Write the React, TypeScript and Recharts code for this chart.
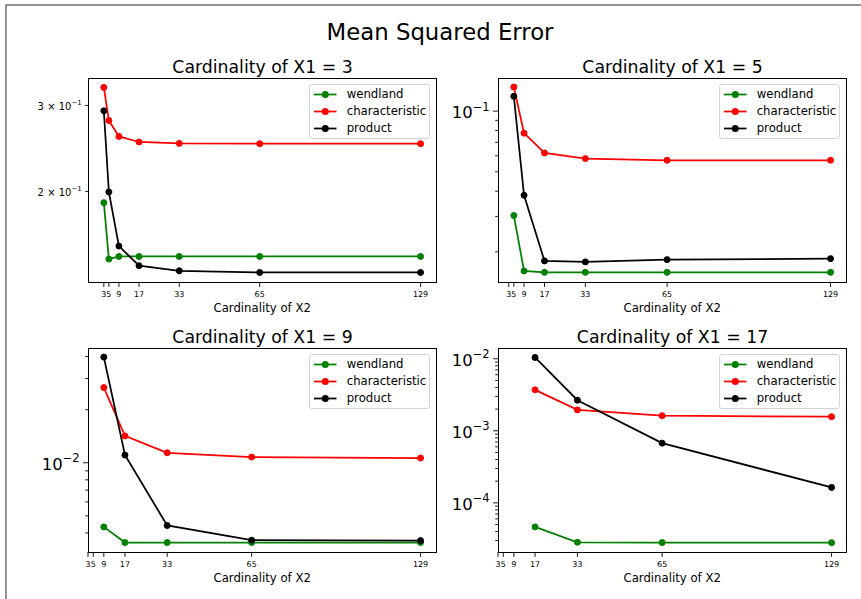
import React from 'react';
import { LineChart, Line, XAxis, YAxis, Legend } from 'recharts';

// X2 cardinalities used on every x axis
const x2Cardinality = [3, 5, 9, 17, 33, 65, 129];
const x1Cardinality = [3, 5, 9, 17];

const seriesNames = ['wendland', 'characteristic', 'product'];
const seriesColors = ['green', 'red', 'black'];

// mean squared error, one value per X2 cardinality >= X1
const wendlandX1of3 = [0.1897, 0.1454, 0.1472, 0.1472, 0.1472, 0.1472, 0.1472];
const characteristicX1of3 = [0.3266, 0.2795, 0.2592, 0.2525, 0.2508, 0.2505, 0.2505];
const productX1of3 = [0.2925, 0.1995, 0.1546, 0.1409, 0.1376, 0.1365, 0.1365];

const wendlandX1of5 = [0.0303, 0.01608, 0.01582, 0.01582, 0.01582, 0.01582];
const characteristicX1of5 = [0.1317, 0.0777, 0.062, 0.0581, 0.057, 0.057];
const productX1of5 = [0.1184, 0.0382, 0.01804, 0.01783, 0.0183, 0.01851];

const wendlandX1of9 = [0.00433, 0.00353, 0.00353, 0.00353, 0.00353];
const characteristicX1of9 = [0.02667, 0.01419, 0.01139, 0.01077, 0.01063];
const productX1of9 = [0.0397, 0.01106, 0.00441, 0.00364, 0.00362];

const wendlandX1of17 = [4.64e-5, 2.84e-5, 2.81e-5, 2.8e-5];
const characteristicX1of17 = [0.0037, 0.00195, 0.00162, 0.00157];
const productX1of17 = [0.01042, 0.00266, 0.000674, 0.000164];

const seriesByX1 = [
  [wendlandX1of3, characteristicX1of3, productX1of3],
  [wendlandX1of5, characteristicX1of5, productX1of5],
  [wendlandX1of9, characteristicX1of9, productX1of9],
  [wendlandX1of17, characteristicX1of17, productX1of17],
];

// axis limits of each panel
const xDomains = [[-3.3, 135.3], [-1.2, 135.2], [3, 135], [3, 134.6]];
const yDomains = [[0.1305, 0.3414], [0.01417, 0.146], [0.00312, 0.0447], [2.08e-5, 0.0141]];

const FONT = "'DejaVu Sans', sans-serif";
const YW = 90;
const MT = 30;
const MR = 12;
const XH = 45;
const PW = 348.4;
const PH = 204;
const plotLefts = [88.3, 498.3, 88.3, 498.3];
const plotTops = [78.3, 78.3, 348.3, 348.3];

function buildData(x1: number, values: number[][]) {
  const xs = x2Cardinality.filter((v) => v >= x1);
  return xs.map((x, i) => {
    const row: any = { x };
    seriesNames.forEach((name, s) => {
      row[name] = values[s][i];
    });
    return row;
  });
}

function logTicks(lo: number, hi: number) {
  const out: number[] = [];
  for (let e = Math.floor(Math.log10(lo)) - 1; e <= Math.ceil(Math.log10(hi)); e++) {
    for (let m = 1; m < 10; m++) {
      const v = Number((m * Math.pow(10, e)).toPrecision(6));
      if (v >= lo && v <= hi) out.push(v);
    }
  }
  return out;
}

function isDecade(v: number) {
  const l = Math.log10(v);
  return Math.abs(l - Math.round(l)) < 1e-9;
}

function makeYTick(labelMinor: boolean) {
  return (props: any) => {
    const { x, y, payload } = props;
    const v = payload.value;
    const major = isDecade(v);
    const len = major ? 4.9 : 2.8;
    const e = Math.floor(Math.log10(v) + 1e-9);
    const m = Math.round(v / Math.pow(10, e));
    const exp = (e < 0 ? '\u2212' : '') + Math.abs(e);
    let label: any = null;
    if (major) {
      label = (
        <text x={x - len - 3.5} y={y + 7} textAnchor="end" fontSize={16.5} fontFamily={FONT} fill="#000">
          10<tspan dy={-7.5} fontSize={11.5}>{exp}</tspan>
        </text>
      );
    } else if (labelMinor) {
      label = (
        <text x={x - len - 3.5} y={y + 4.5} textAnchor="end" fontSize={10} fontFamily={FONT} fill="#000">
          {`${m} \u00d7 10`}<tspan dy={-4.5} fontSize={7}>{exp}</tspan>
        </text>
      );
    }
    return (
      <g>
        <line x1={x - len} x2={x} y1={y} y2={y} stroke="#000" strokeWidth={0.9} />
        {label}
      </g>
    );
  };
}

const XTick = (props: any) => {
  const { x, y, payload } = props;
  return (
    <g>
      <line x1={x} x2={x} y1={y} y2={y + 4.9} stroke="#000" strokeWidth={0.9} />
      <text x={x} y={y + 14.7} textAnchor="middle" fontSize={8} fontFamily={FONT} fill="#000">
        {payload.value}
      </text>
    </g>
  );
};

const LegendBox = (props: any) => {
  const payload = props.payload || [];
  // keep the plotting order, not the sorted one
  const items = seriesNames.map((name, s) => {
    const found = payload.find((p: any) => p.value === name);
    return { value: name, color: found ? found.color : seriesColors[s] };
  });
  return (
    <div
      style={{
        width: 121,
        height: 55,
        boxSizing: 'border-box',
        border: '1px solid #d4d4d4',
        borderRadius: 3,
        background: 'rgba(255,255,255,0.8)',
        position: 'relative',
        fontFamily: FONT,
        fontSize: 11.7,
      }}
    >
      {items.map((it: any, i: number) => (
        <div key={it.value} style={{ position: 'absolute', left: 0, top: 1.5 + i * 17, height: 17, width: 121 }}>
          <svg width={30} height={17} style={{ position: 'absolute', left: 3, top: 0 }}>
            <line x1={1} x2={23.5} y1={8.5} y2={8.5} stroke={it.color} strokeWidth={1.75} />
            <circle cx={12.3} cy={8.5} r={3.5} fill={it.color} />
          </svg>
          <span style={{ position: 'absolute', left: 37, top: 0, lineHeight: '17px', color: '#000', whiteSpace: 'nowrap' }}>
            {it.value}
          </span>
        </div>
      ))}
    </div>
  );
};

function Panel({ index }: { index: number }) {
  const x1 = x1Cardinality[index];
  const data = buildData(x1, seriesByX1[index]);
  const [ylo, yhi] = yDomains[index];
  const yTicks = logTicks(ylo, yhi);
  const labelMinor = !yTicks.some(isDecade);
  const left = plotLefts[index];
  const top = plotTops[index];
  const width = YW + PW + MR;
  const height = MT + PH + XH;
  return (
    <>
      <div style={{ position: 'absolute', left: left - YW, top: top - MT, width, height }}>
        <LineChart width={width} height={height} data={data} margin={{ top: MT, right: MR, bottom: 0, left: 0 }}>
          <XAxis
            dataKey="x"
            type="number"
            domain={xDomains[index]}
            allowDataOverflow
            ticks={x2Cardinality}
            interval={0}
            height={XH}
            tickSize={0}
            tickMargin={0}
            axisLine={false}
            tickLine={false}
            tick={XTick}
            label={{ value: 'Cardinality of X2', position: 'insideBottom', offset: 15.3, fontSize: 11.7, fontFamily: FONT, fill: '#000' }}
          />
          <YAxis
            type="number"
            scale="log"
            domain={[ylo, yhi]}
            allowDataOverflow
            ticks={yTicks}
            interval={0}
            width={YW}
            tickSize={0}
            tickMargin={0}
            axisLine={false}
            tickLine={false}
            tick={makeYTick(labelMinor)}
          />
          <Legend
            layout="vertical"
            align="center"
            verticalAlign="middle"
            content={LegendBox}
            wrapperStyle={{ left: YW + PW - 7 - 121, top: MT + 5.5, width: 121, height: 55 }}
          />
          {seriesNames.map((name, s) => (
            <Line
              key={name}
              dataKey={name}
              name={name}
              stroke={seriesColors[s]}
              strokeWidth={1.75}
              dot={{ r: 3, fill: seriesColors[s], stroke: seriesColors[s], strokeWidth: 1 }}
              activeDot={false}
              isAnimationActive={false}
            />
          ))}
        </LineChart>
      </div>
      <div
        style={{
          position: 'absolute',
          left: left - 0.5,
          top: top - 0.5,
          width: PW + 1,
          height: PH + 1,
          boxSizing: 'border-box',
          border: '1px solid #000',
          pointerEvents: 'none',
        }}
      />
    </>
  );
}

export default function App() {
  return (
    <div style={{ position: 'absolute', left: 0, top: 0, width: 861, height: 599, overflow: 'hidden', background: '#fff' }}>
      <svg width={861} height={599} style={{ position: 'absolute', left: 0, top: 0 }}>
        <rect x={6} y={5} width={1000} height={1000} fill="none" stroke="#6e6e6e" strokeWidth={1.5} />
        <text x={440} y={40} textAnchor="middle" fontSize={22.8} fontFamily={FONT} fill="#000">
          Mean Squared Error
        </text>
        {x1Cardinality.map((x1, i) => (
          <text
            key={x1}
            x={plotLefts[i] + PW / 2}
            y={plotTops[i] - 5.6}
            textAnchor="middle"
            fontSize={17.3}
            fontFamily={FONT}
            fill="#000"
          >
            {`Cardinality of X1 = ${x1}`}
          </text>
        ))}
      </svg>
      {x1Cardinality.map((x1, i) => (
        <Panel key={x1} index={i} />
      ))}
    </div>
  );
}
